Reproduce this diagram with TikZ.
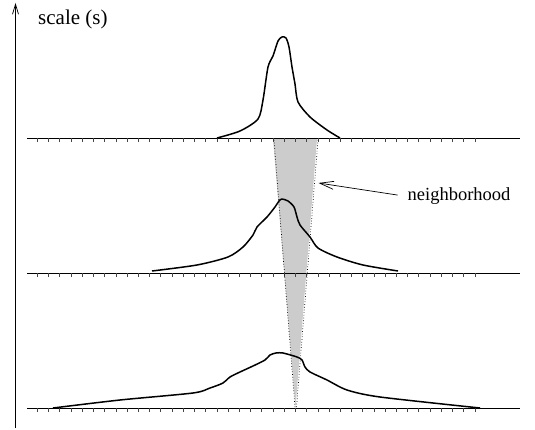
\documentclass[tikz,border=0pt]{standalone}
\usepackage{fontspec}
\newfontfamily\lblfont{Liberation Serif}
\usepackage{tikz}
\usetikzlibrary{arrows.meta}
\definecolor{nshade}{HTML}{CCCCCC}
\definecolor{ntick}{HTML}{444444}

\begin{document}
\begin{tikzpicture}[x=1pt,y=-1pt,
  curve/.style={line width=1.5pt,line join=round},
  baseln/.style={line width=0.7pt},
  tickln/.style={ntick,line width=0.6pt},
  lbl/.style={font=\lblfont\fontsize{18.5}{22}\selectfont,inner sep=0pt,anchor=base west}]
  \useasboundingbox (0,0) rectangle (535,430);
  % neighborhood cone
  \coordinate (nl) at (273,139);
  \coordinate (nr) at (317,139);
  \coordinate (napex) at (295.5,408);
  \fill[nshade] (nl) -- (nr) -- (napex) -- cycle;
  % scale levels with ticks
  \foreach \y in {138,273,408}{
    \draw[baseln] (27,\y) -- (520,\y);
    \foreach \i in {0,...,39}
      \draw[tickln] (37.3+\i*11.22,\y) -- (37.3+\i*11.22,\y+3.8);
  }
  \draw[dotted,line width=0.7pt] (274,140) -- (295,407);
  \draw[dotted,line width=0.7pt] (318,140) -- (296.5,407);
  % responses
  \draw[curve] plot[smooth,tension=0.45] coordinates {(217,138) (240,131) (258,119) (263,100)
    (268,67) (273,56) (278,41) (282,37) (286,38) (289,47) (292,67) (295,84) (298,102)
    (310,117) (327,130) (340,138)};
  \draw[curve] plot[smooth,tension=0.45] coordinates {(152,271) (197,265) (228,257) (243,247)
    (253,235) (257,227) (267,217) (275,207) (279,201) (282,199) (288,201) (294,207)
    (297,217) (300,225) (310,237) (318,248) (337,257) (363,265) (398,271)};
  \draw[curve] plot[smooth,tension=0.45] coordinates {(53,408) (120,400) (193,393) (210,388)
    (223,383) (230,377) (240,372) (253,366) (265,360) (270,355) (276,353) (283,353)
    (297,357) (302,360) (305,367) (310,372) (327,380) (347,390) (380,397) (480,408)};
  % axis
  \coordinate (ax0) at (15.5,428);
  \coordinate (ax1) at (15.5,3);
  \draw[line width=0.7pt,-{Straight Barb[length=10pt,width=6pt]}] (ax0) -- (ax1);
  \node[lbl,font=\lblfont\fontsize{21}{24}\selectfont] (scl) at (38,25) {scale (s)};
  % label
  \node[lbl] (nb) at (407.5,201) {neighborhood};
  \coordinate (nbtip) at (318.5,183);
  \draw[line width=0.7pt,-{Straight Barb[length=14pt,width=8pt]},shorten <=10pt] (nb.west) -- (nbtip);
\end{tikzpicture}
\end{document}
